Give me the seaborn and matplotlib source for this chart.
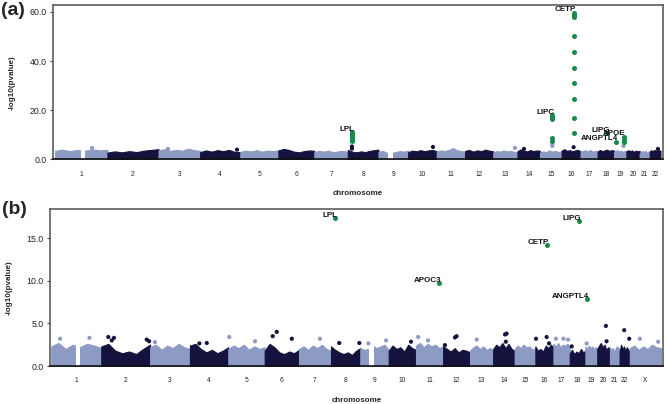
import numpy as np
import pandas as pd
import seaborn as sns
import matplotlib.pyplot as plt

chroms = [str(i) for i in range(1, 23)] + ['X']
chrom_len = [249, 243, 198, 191, 181, 171, 159, 146, 141, 136, 135, 134,
             115, 107, 103, 90, 81, 78, 59, 63, 48, 51, 155]
gaps = {'1': (125, 143), '9': (45, 68)}

# top of the dense band of SNPs, 8 readings along each chromosome
band_a = {
    '1': [3.5, 4.0, 3.4, 3.9, 3.6, 4.1, 3.7, 3.9], '2': [2.8, 3.3, 2.9, 3.4, 3.0, 3.6, 3.9, 4.2],
    '3': [3.7, 4.2, 3.5, 3.9, 3.6, 4.4, 3.8, 3.5], '4': [3.0, 3.7, 3.2, 3.8, 3.4, 3.9, 3.1, 3.0],
    '5': [3.1, 3.6, 3.3, 3.8, 3.2, 3.6, 3.4, 3.7], '6': [3.7, 4.3, 3.9, 3.2, 2.9, 3.4, 3.7, 3.5],
    '7': [3.0, 3.5, 3.2, 3.6, 2.9, 3.3, 3.5, 3.1], '8': [3.9, 3.2, 2.9, 3.3, 3.0, 3.5, 3.8, 4.0],
    '9': [3.1, 3.5, 2.7, 2.6, 3.0, 3.4, 3.2, 3.6], '10': [3.0, 3.6, 3.3, 3.8, 3.4, 3.7, 3.9, 3.3],
    '11': [3.2, 3.7, 3.4, 3.9, 4.6, 3.8, 3.4, 3.2], '12': [3.5, 3.9, 3.2, 3.7, 3.4, 4.0, 3.6, 3.3],
    '13': [2.9, 3.4, 3.2, 3.7, 3.3, 3.5, 3.1, 3.0], '14': [3.4, 4.1, 3.6, 3.3, 3.8, 3.4, 3.7, 3.5],
    '15': [2.8, 3.3, 3.0, 3.7, 3.2, 3.5, 3.0, 3.4], '16': [3.6, 4.2, 3.5, 3.8, 3.3, 3.7, 3.9, 3.3],
    '17': [3.0, 3.5, 3.7, 3.3, 3.9, 3.2, 3.5, 3.4], '18': [3.2, 3.9, 3.4, 3.7, 4.0, 3.5, 3.8, 3.6],
    '19': [3.0, 3.5, 3.8, 3.2, 3.6, 3.1, 3.4, 3.5], '20': [3.3, 3.8, 3.4, 3.7, 3.1, 3.6, 3.3, 3.5],
    '21': [2.4, 2.9, 3.5, 3.1, 3.4, 2.8, 3.2, 3.4], '22': [3.1, 3.8, 3.3, 3.9, 3.5, 4.2, 3.7, 3.6],
}
band_b = {
    '1': [2.3, 2.7, 2.0, 2.5, 2.2, 2.6, 2.4, 2.1], '2': [2.3, 2.6, 1.8, 1.5, 1.7, 1.4, 2.0, 2.5],
    '3': [2.2, 2.5, 1.9, 2.4, 2.1, 2.6, 2.2, 2.0], '4': [2.4, 2.6, 2.0, 1.6, 1.9, 1.5, 1.8, 2.2],
    '5': [2.0, 2.4, 2.1, 2.5, 1.9, 2.3, 2.0, 2.2], '6': [1.8, 2.6, 2.2, 1.6, 1.4, 1.7, 1.5, 1.9],
    '7': [2.0, 2.3, 1.9, 2.4, 2.1, 2.5, 2.0, 1.8], '8': [2.3, 1.9, 1.6, 1.4, 1.6, 1.3, 1.8, 2.1],
    '9': [2.1, 1.9, 2.0, 2.4, 2.1, 2.3, 2.5, 1.9], '10': [1.8, 2.4, 2.0, 2.2, 1.7, 2.5, 2.1, 1.9],
    '11': [2.4, 2.7, 2.2, 2.6, 2.3, 2.5, 2.1, 2.3], '12': [2.3, 2.0, 1.7, 2.1, 1.6, 1.9, 1.8, 1.6],
    '13': [1.8, 2.2, 2.4, 2.0, 2.3, 1.9, 2.1, 1.9], '14': [2.0, 2.5, 2.2, 2.7, 2.1, 2.6, 2.0, 1.8],
    '15': [2.0, 2.4, 2.1, 2.5, 2.2, 2.3, 1.9, 2.1], '16': [2.3, 1.8, 2.0, 1.7, 2.4, 2.1, 2.5, 2.2],
    '17': [2.6, 2.3, 2.7, 2.2, 2.5, 2.4, 2.6, 2.3], '18': [1.5, 1.9, 1.4, 1.7, 1.5, 2.0, 1.6, 1.8],
    '19': [2.3, 2.0, 2.4, 2.1, 2.3, 2.0, 2.2, 2.1], '20': [2.0, 2.4, 2.7, 2.2, 2.5, 1.9, 2.2, 2.0],
    '21': [2.2, 1.9, 2.1, 1.7, 2.0, 2.3, 2.1, 2.0], '22': [1.7, 2.5, 2.0, 2.3, 1.8, 2.2, 1.9, 1.7],
    'X': [2.1, 2.4, 1.9, 2.3, 2.0, 2.5, 2.2, 2.1],
}

# panel (a) highlighted loci
genes_a = ['LPL', 'LIPC', 'CETP', 'LIPG', 'ANGPTL4', 'APOE']
gene_chr_a = ['8', '15', '16', '18', '19', '19']
gene_pos_a = [19.8, 58.7, 57.0, 47.0, 8.4, 45.4]
gene_vals_a = [[11.1, 10.6, 10.2, 9.7, 9.1, 8.6, 8.1, 7.6],
               [18.1, 17.2, 16.3, 8.6, 7.7],
               [59.7, 58.8, 58.1, 50.0, 43.9, 37.1, 31.2, 24.6, 16.8, 10.9],
               [10.8],
               [7.2],
               [9.3, 7.9, 7.2]]
other_chr_a = ['8', '8', '15', '15', '16', '19', '10', '1', '3', '4', '13', '14', '22']
other_pos_a = [19.8, 19.8, 58.7, 58.7, 57.0, 45.4, 118, 176, 45, 175, 103, 31, 39]
other_val_a = [5.3, 4.4, 6.3, 5.5, 5.0, 5.5, 5.1, 4.7, 4.3, 4.0, 4.7, 4.3, 4.3]

# panel (b) highlighted loci
genes_b = ['LPL', 'APOC3', 'CETP', 'LIPG', 'ANGPTL4']
gene_chr_b = ['8', '11', '16', '18', '19']
gene_pos_b = [19.8, 116.7, 57.0, 47.0, 8.4]
gene_val_b = [17.3, 9.7, 14.2, 17.0, 7.8]
other_chr_b = ['1', '1', '2', '2', '2', '2', '2', '3', '4', '4', '5', '5', '6', '6', '6',
               '7', '8', '8', '9', '9', '10', '11', '11', '12', '12', '12', '13', '14',
               '14', '14', '16', '16', '16', '17', '17', '17', '18', '19', '20', '20',
               '22', '22', 'X', 'X']
other_pos_b = [44, 190, 35, 52, 63, 226, 238, 24, 47, 84, 5, 133, 40, 60, 135,
               104, 41, 141, 40, 128, 111, 11, 60, 9, 59, 67, 33, 59,
               67, 63, 3, 56, 68, 12, 50, 73, 10, 6, 43, 46,
               23, 48, 50, 141]
other_val_b = [3.2, 3.3, 3.4, 3.0, 3.3, 3.1, 2.9, 2.8, 2.65, 2.7, 3.4, 2.9, 3.5, 4.0, 3.2,
               3.2, 2.7, 2.7, 2.65, 3.0, 2.85, 3.4, 3.0, 2.45, 3.35, 3.5, 3.1, 3.7,
               3.8, 2.85, 3.2, 3.4, 2.65, 3.2, 3.2, 3.1, 2.3, 2.65, 4.7, 2.9,
               4.2, 3.2, 3.2, 2.85]

light = '#8d9ac4'
dark = '#15133d'
green = '#188a4c'

sns.set_style('white')
plt.rcParams['font.family'] = ['Liberation Sans', 'DejaVu Sans']

lens = dict(zip(chroms, chrom_len))
offs = dict(zip(chroms, np.concatenate([[0], np.cumsum(chrom_len)[:-1]])))
shade = {c: (light if i % 2 == 0 else dark) for i, c in enumerate(chroms)}


def draw_panel(ax, band, used, ochr, opos, oval, gdf, ymax, yticks, xlim, tag, tag_xy):
    for c in used:
        h = band[c]
        xs = offs[c] + np.linspace(0, lens[c], len(h))
        ax.fill_between(xs, 0, h, color=shade[c], lw=0.8, edgecolor=shade[c], zorder=1)
        if c in gaps:
            ax.axvspan(offs[c] + gaps[c][0], offs[c] + gaps[c][1], ymin=0.003, ymax=0.3,
                       color='white', lw=0, zorder=1.5)
    odf = pd.DataFrame({'chr': ochr, 'x': [offs[c] + p for c, p in zip(ochr, opos)], 'y': oval})
    sns.scatterplot(data=odf, x='x', y='y', hue='chr', palette=shade, legend=False,
                    s=9, linewidth=0, ax=ax, zorder=2)
    sns.scatterplot(data=gdf, x='x', y='y', color=green, s=13, linewidth=0, ax=ax, zorder=3)
    tops = gdf.groupby('gene', sort=False).agg(x=('x', 'first'), y=('y', 'max'))
    for g, r in tops.iterrows():
        ax.annotate(g, (r['x'], r['y']), xytext=(1.5, -0.5), textcoords='offset points',
                    ha='right', va='bottom', fontsize=5.8, fontweight='bold', color='#111111',
                    zorder=4)
    ax.set_xlim(*xlim)
    ax.set_ylim(0, ymax)
    ax.set_yticks(yticks)
    ax.set_yticklabels(['%.1f' % v for v in yticks], fontsize=6.3, color='#222222')
    ax.set_xticks([offs[c] + lens[c] / 2 for c in used])
    ax.set_xticklabels(used, fontsize=4.8, color='#222222')
    ax.tick_params(axis='x', length=0, pad=8)
    ax.tick_params(axis='y', length=2.5, width=0.8, color='#444444', pad=2, left=True)
    ax.set_xlabel('chromosome', fontsize=5.8, fontweight='bold', labelpad=9)
    ax.set_ylabel('-log10(pvalue)', fontsize=5.8, fontweight='bold', labelpad=10)
    for s in ['top', 'left', 'right']:
        ax.spines[s].set_color('#5c5c5c')
        ax.spines[s].set_linewidth(1.2)
    ax.spines['bottom'].set_color('#111111')
    ax.spines['bottom'].set_linewidth(1.2)
    ax.text(tag_xy[0], tag_xy[1], tag, transform=ax.transAxes, fontsize=14,
            fontweight='bold', ha='left', va='top')


fig = plt.figure(figsize=(6.68, 4.04), dpi=100)
ax_a = fig.add_axes([0.0793, 0.6052, 0.9132, 0.3824])
ax_b = fig.add_axes([0.0749, 0.094, 0.9176, 0.3887])

rows = []
for g, c, p, vals in zip(genes_a, gene_chr_a, gene_pos_a, gene_vals_a):
    for v in vals:
        rows.append({'gene': g, 'x': offs[c] + p, 'y': v})
gdf_a = pd.DataFrame(rows)
gdf_b = pd.DataFrame({'gene': genes_b,
                      'x': [offs[c] + p for c, p in zip(gene_chr_b, gene_pos_b)],
                      'y': gene_val_b})

draw_panel(ax_a, band_a, chroms[:22], other_chr_a, other_pos_a, other_val_a, gdf_a,
           62.8, [0, 20, 40, 60], (-10, 2891), '(a)', (-0.085, 1.02))
draw_panel(ax_b, band_b, chroms, other_chr_b, other_pos_b, other_val_b, gdf_b,
           18.4, [0, 5, 10, 15], (-6, 3044), '(b)', (-0.078, 1.05))

fig.savefig('out.png', dpi=100)
